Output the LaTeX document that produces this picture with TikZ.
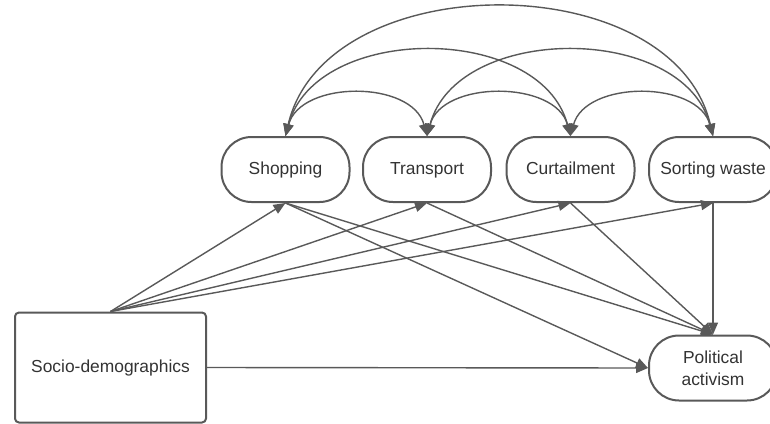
\documentclass[tikz,border=0pt]{standalone}
\usepackage{fontspec}
\setmainfont{Liberation Sans}
\usetikzlibrary{arrows.meta}
\definecolor{lc}{HTML}{595959}
\definecolor{tc}{HTML}{333333}
\begin{document}
\begin{tikzpicture}[x=1pt,y=-1pt,
  every node/.style={font=\fontsize{17.4}{22}\selectfont, text=tc},
  pill/.style={draw=lc, line width=2pt, rounded corners=30pt, minimum width=128pt, minimum height=65pt, inner sep=0pt, fill=white, align=center},
  oneline/.style={text height=12.5pt, text depth=3.5pt},
  sqbox/.style={draw=lc, line width=2pt, rounded corners=4pt, minimum width=191pt, minimum height=110pt, inner sep=0pt},
  conn/.style={draw=lc, line width=1.4pt, -{Triangle[length=12pt,width=10pt]}},
  corr/.style={draw=lc, line width=1.4pt, {Triangle[length=12pt,width=10pt]}-{Triangle[length=12pt,width=10pt]}}
]
\useasboundingbox (0,0) rectangle (770,423);
\node[pill,oneline] (shop) at (285.5,169.5) {Shopping};
\node[pill,oneline] (trans) at (427,169.5) {Transport};
\node[pill,oneline] (curt) at (570.5,169.5) {Curtailment};
\node[pill,oneline] (sort) at (713,169.5) {Sorting waste};
\node[pill] (pol) at (713,368) {Political\\activism};
\node[sqbox] (socio) at (110.5,367.5) {Socio-demographics};

% correlation arcs
\draw[corr] (shop.north) .. controls +(15,-56) and +(-15,-56) .. (trans.north);
\draw[corr] (trans.north) .. controls +(15,-56) and +(-15,-56) .. (curt.north);
\draw[corr] (curt.north) .. controls +(15,-56) and +(-15,-56) .. (sort.north);
\draw[corr] (shop.north) .. controls +(30,-113) and +(-30,-113) .. (curt.north);
\draw[corr] (trans.north) .. controls +(30,-113) and +(-30,-113) .. (sort.north);
\draw[corr] (shop.north) .. controls +(40,-171) and +(-40,-171) .. (sort.north);

% from socio-demographics
\draw[conn] (socio.north) -- (shop.south);
\draw[conn] (socio.north) -- (trans.south);
\draw[conn] (socio.north) -- (curt.south);
\draw[conn] (socio.north) -- (sort.south);
\draw[conn] (socio.east) -- (pol.west);

% to political activism
\draw[conn] (shop.south) -- (pol.west);
\draw[conn] (shop.south) -- (pol.north);
\draw[conn] (trans.south) -- (pol.north);
\draw[conn] (curt.south) -- (pol.north);
\draw[conn] (sort.south) -- (pol.north);
\end{tikzpicture}
\end{document}
